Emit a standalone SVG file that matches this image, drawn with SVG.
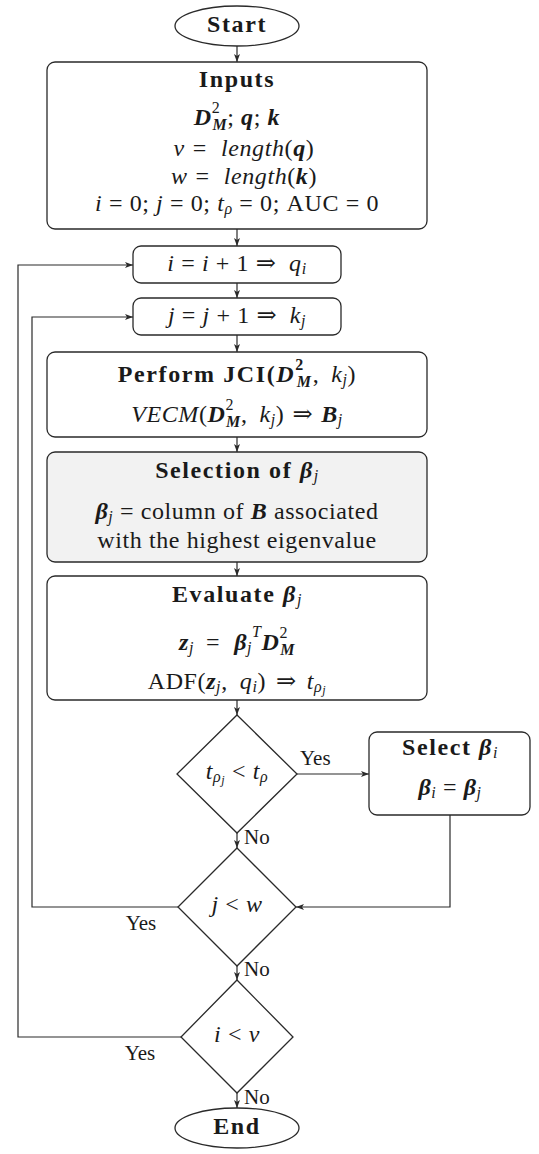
<svg xmlns="http://www.w3.org/2000/svg" width="539" height="1154" viewBox="0 0 539 1154">
  <style>
    .shape { fill: #ffffff; stroke: #2a2a2a; stroke-width: 1.3; }
    .shaded { fill: #f2f2f2; }
    .edge { fill: none; stroke: #2a2a2a; stroke-width: 1.2; }
    text { font-family: "Liberation Serif", "DejaVu Serif", serif; font-size: 24px; fill: #1a1a1a; dominant-baseline: middle; letter-spacing: 0.6px; }
    .c { text-anchor: middle; }
    .b { font-weight: bold; letter-spacing: 1.6px; }
    .n { font-weight: normal; letter-spacing: 0.6px; }
    .i { font-style: italic; }
    .bi { font-weight: bold; font-style: italic; }
    .sm { font-size: 16px; }
    .xs { font-size: 12px; }
    .lbl { font-size: 21px; letter-spacing: 0; }
  </style>
  <defs>
    <marker id="arr" viewBox="0 0 8 6" refX="8" refY="3" markerWidth="8" markerHeight="6" markerUnits="userSpaceOnUse" orient="auto">
      <path d="M0,0 L8,3 L0,6 L2,3 z" fill="#2a2a2a"/>
    </marker>
  </defs>

  <!-- connectors -->
  <g id="connectors">
    <line class="edge" x1="237" y1="46" x2="237" y2="62" marker-end="url(#arr)"/>
    <line class="edge" x1="237" y1="229" x2="237" y2="246" marker-end="url(#arr)"/>
    <line class="edge" x1="237" y1="283" x2="237" y2="298" marker-end="url(#arr)"/>
    <line class="edge" x1="237" y1="335" x2="237" y2="352" marker-end="url(#arr)"/>
    <line class="edge" x1="237" y1="437" x2="237" y2="452" marker-end="url(#arr)"/>
    <line class="edge" x1="237" y1="562" x2="237" y2="576" marker-end="url(#arr)"/>
    <line class="edge" x1="237" y1="700" x2="237" y2="715" marker-end="url(#arr)"/>
    <line class="edge" x1="297" y1="774" x2="369" y2="774" marker-end="url(#arr)"/>
    <polyline class="edge" points="450,815 450,907 296,907" marker-end="url(#arr)"/>
    <line class="edge" x1="237" y1="833" x2="237" y2="848" marker-end="url(#arr)"/>
    <polyline class="edge" points="178,907 32,907 32,317 133,317" marker-end="url(#arr)"/>
    <line class="edge" x1="237" y1="966" x2="237" y2="980" marker-end="url(#arr)"/>
    <polyline class="edge" points="181,1037 18,1037 18,265 133,265" marker-end="url(#arr)"/>
    <line class="edge" x1="237" y1="1093" x2="237" y2="1108" marker-end="url(#arr)"/>
    <text class="lbl" x="300" y="760">Yes</text>
    <text class="lbl" x="244" y="839">No</text>
    <text class="lbl c" x="141" y="925">Yes</text>
    <text class="lbl" x="244" y="971">No</text>
    <text class="lbl c" x="140" y="1055">Yes</text>
    <text class="lbl" x="244" y="1099">No</text>
  </g>

  <g id="start">
    <ellipse class="shape" cx="237" cy="26" rx="62" ry="20"/>
    <text class="c b" x="237" y="26">Start</text>
  </g>

  <g id="inputs">
    <rect class="shape" x="47" y="62" width="380" height="167" rx="8"/>
    <text class="c b" x="237" y="81">Inputs</text>
    <text class="c" x="237" y="119"><tspan class="bi">D</tspan><tspan class="sm" baseline-shift="10">2</tspan><tspan class="sm bi" dx="-8" baseline-shift="-7">M</tspan>; <tspan class="bi">q</tspan>; <tspan class="bi">k</tspan></text>
    <text class="c" x="244" y="150"><tspan class="i">v</tspan><tspan dx="8">=</tspan><tspan class="i" dx="14">length</tspan>(<tspan class="bi">q</tspan>)</text>
    <text class="c" x="244" y="178"><tspan class="i">w</tspan><tspan dx="8">=</tspan><tspan class="i" dx="14">length</tspan>(<tspan class="bi">k</tspan>)</text>
    <text class="c" x="237" y="205"><tspan class="i">i</tspan> = 0; <tspan class="i">j</tspan> = 0; <tspan class="i">t</tspan><tspan class="sm i" baseline-shift="-5">ρ</tspan> = 0; AUC = 0</text>
  </g>

  <g id="incr-i">
    <rect class="shape" x="133" y="246" width="208" height="37" rx="8"/>
    <text class="c" x="237" y="265"><tspan class="i">i</tspan> = <tspan class="i">i</tspan> + 1 ⇒ <tspan class="i" dx="6">q</tspan><tspan class="sm i" baseline-shift="-5">i</tspan></text>
  </g>

  <g id="incr-j">
    <rect class="shape" x="133" y="298" width="208" height="37" rx="8"/>
    <text class="c" x="237" y="317"><tspan class="i">j</tspan> = <tspan class="i">j</tspan> + 1 ⇒ <tspan class="i" dx="6">k</tspan><tspan class="sm i" baseline-shift="-5">j</tspan></text>
  </g>

  <g id="jci">
    <rect class="shape" x="47" y="352" width="380" height="85" rx="8"/>
    <text class="c b" x="237" y="376">Perform JCI(<tspan class="bi">D</tspan><tspan class="sm" baseline-shift="10">2</tspan><tspan class="sm bi" dx="-8" baseline-shift="-7">M</tspan><tspan class="n">,</tspan><tspan class="i n" dx="12">k</tspan><tspan class="sm i n" baseline-shift="-5">j</tspan><tspan class="n">)</tspan></text>
    <text class="c" x="237" y="416"><tspan class="i">VECM</tspan>(<tspan class="bi">D</tspan><tspan class="sm" baseline-shift="10">2</tspan><tspan class="sm bi" dx="-8" baseline-shift="-7">M</tspan>,<tspan class="i" dx="12">k</tspan><tspan class="sm i" baseline-shift="-5">j</tspan>)<tspan dx="8">⇒</tspan><tspan class="bi" dx="8">B</tspan><tspan class="sm i" baseline-shift="-5">j</tspan></text>
  </g>

  <g id="selection">
    <rect class="shape shaded" x="47" y="452" width="380" height="110" rx="8"/>
    <text class="c b" x="237" y="472">Selection of <tspan class="bi">β</tspan><tspan class="sm i n" baseline-shift="-5">j</tspan></text>
    <text class="c" x="237" y="513"><tspan class="bi">β</tspan><tspan class="sm i" baseline-shift="-5">j</tspan> = column of <tspan class="bi">B</tspan> associated</text>
    <text class="c" x="237" y="542">with the highest eigenvalue</text>
  </g>

  <g id="evaluate">
    <rect class="shape" x="47" y="576" width="380" height="124" rx="8"/>
    <text class="c b" x="237" y="596">Evaluate <tspan class="bi">β</tspan><tspan class="sm i n" baseline-shift="-5">j</tspan></text>
    <text class="c" x="237" y="644"><tspan class="bi">z</tspan><tspan class="sm i" baseline-shift="-5">j</tspan><tspan dx="12">=</tspan><tspan class="bi" dx="14">β</tspan><tspan class="sm i" baseline-shift="-5">j</tspan><tspan class="sm i" baseline-shift="11">T</tspan><tspan class="bi">D</tspan><tspan class="sm" baseline-shift="10">2</tspan><tspan class="sm bi" dx="-8" baseline-shift="-7">M</tspan></text>
    <text class="c" x="237" y="683">ADF(<tspan class="bi">z</tspan><tspan class="sm i" baseline-shift="-5">j</tspan>,<tspan class="i" dx="12">q</tspan><tspan class="sm i" baseline-shift="-5">i</tspan>)<tspan dx="10">⇒</tspan><tspan class="i" dx="10">t</tspan><tspan class="sm i" baseline-shift="-5">ρ<tspan class="xs" baseline-shift="-3">j</tspan></tspan></text>
  </g>

  <g id="test-t">
    <polygon class="shape" points="237,715 297,774 237,833 177,774"/>
    <text class="c" x="237" y="773"><tspan class="i">t</tspan><tspan class="sm i" baseline-shift="-5">ρ<tspan class="xs" baseline-shift="-3">j</tspan></tspan> &lt; <tspan class="i">t</tspan><tspan class="sm i" baseline-shift="-5">ρ</tspan></text>
  </g>

  <g id="select-beta">
    <rect class="shape" x="369" y="732" width="161" height="83" rx="8"/>
    <text class="c b" x="450" y="749">Select <tspan class="bi">β</tspan><tspan class="sm i n" baseline-shift="-5">i</tspan></text>
    <text class="c" x="450" y="789"><tspan class="bi">β</tspan><tspan class="sm i" baseline-shift="-5">i</tspan> = <tspan class="bi">β</tspan><tspan class="sm i" baseline-shift="-5">j</tspan></text>
  </g>

  <g id="test-j">
    <polygon class="shape" points="237,848 296,907 237,966 178,907"/>
    <text class="c" x="237" y="906"><tspan class="i">j</tspan> &lt; <tspan class="i">w</tspan></text>
  </g>

  <g id="test-i">
    <polygon class="shape" points="237,980 293,1037 237,1093 181,1037"/>
    <text class="c" x="237" y="1036"><tspan class="i">i</tspan> &lt; <tspan class="i">v</tspan></text>
  </g>

  <g id="end">
    <ellipse class="shape" cx="237" cy="1128" rx="62" ry="20"/>
    <text class="c b" x="237" y="1128">End</text>
  </g>
</svg>
